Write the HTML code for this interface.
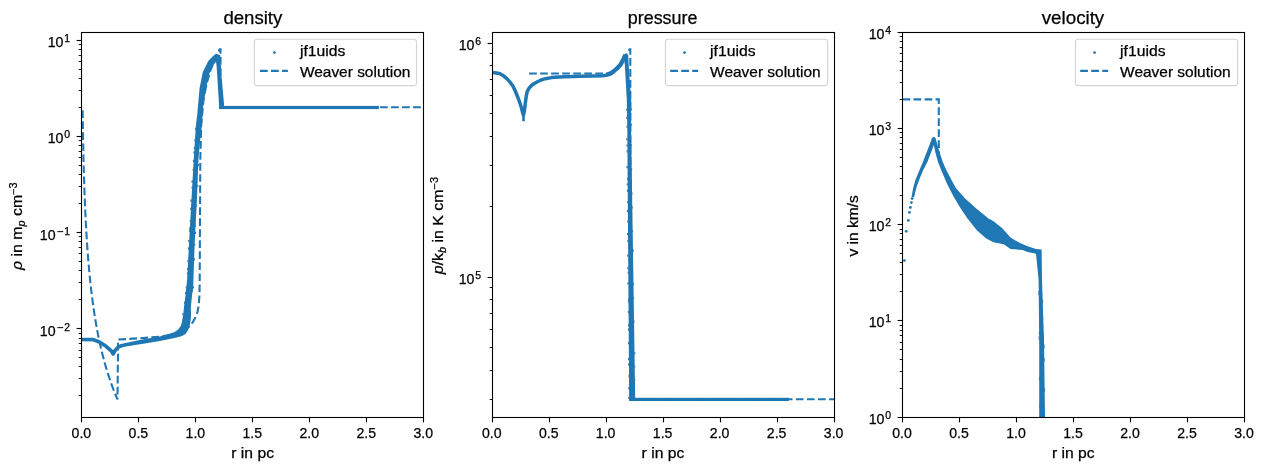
<!DOCTYPE html>
<html><head><meta charset="utf-8"><title>plot</title>
<style>html,body{margin:0;padding:0;background:#fff;}svg{display:block;will-change:transform;}text{stroke:#000;stroke-width:0.25px;}</style>
</head><body>
<svg width="1264" height="470" viewBox="0 0 1264 470" font-family='"Liberation Sans", sans-serif' fill="#000">
<rect x="0" y="0" width="1264" height="470" fill="#fff"/>
<clipPath id="c0"><rect x="81.50" y="32.50" width="342.00" height="385.00"/></clipPath>
<clipPath id="c1"><rect x="492.50" y="32.50" width="342.00" height="385.00"/></clipPath>
<clipPath id="c2"><rect x="902.50" y="32.50" width="342.00" height="385.00"/></clipPath>
<g clip-path="url(#c0)">
<polyline points="82.00,339.50 93.30,339.60 99.30,342.00 106.10,346.30 111.50,351.20 113.20,353.90 115.00,350.60 118.00,347.10 121.50,345.70 125.70,344.80 131.00,343.80" fill="none" stroke="#1f77b4" stroke-width="3.7" stroke-linejoin="round" stroke-linecap="butt"/>
<polygon points="130.00,341.90 144.90,338.90 159.80,336.40 167.20,334.40 174.70,331.90 178.40,329.20 181.00,325.50 182.10,321.00 183.20,315.00 183.90,307.70 185.70,293.80 187.10,280.00 190.30,220.00 193.70,160.00 195.90,125.00 197.20,115.00 199.60,87.90 202.80,71.90 208.40,60.70 213.10,56.00 216.00,53.80 219.80,56.00 220.00,60.00 216.30,61.50 212.50,66.00 209.90,71.90 206.00,87.90 203.00,108.00 202.00,125.00 200.20,140.00 198.40,160.00 196.90,200.00 194.60,245.00 193.10,290.00 192.20,293.80 190.80,307.70 191.10,315.00 190.70,319.50 189.90,324.70 188.10,329.90 185.80,333.80 182.10,336.00 174.70,338.00 167.20,339.60 159.80,341.00 144.90,343.40 130.00,345.80" fill="#1f77b4"/>
<rect x="195.12" y="127.80" width="0.91" height="2.20" fill="#1f77b4"/>
<rect x="194.45" y="139.26" width="0.85" height="2.20" fill="#1f77b4"/>
<rect x="193.77" y="146.90" width="1.06" height="2.20" fill="#1f77b4"/>
<rect x="193.38" y="151.41" width="1.16" height="2.20" fill="#1f77b4"/>
<rect x="192.90" y="159.87" width="1.10" height="2.20" fill="#1f77b4"/>
<rect x="192.64" y="168.79" width="0.86" height="2.20" fill="#1f77b4"/>
<rect x="191.46" y="180.48" width="1.38" height="2.20" fill="#1f77b4"/>
<rect x="191.54" y="186.52" width="0.96" height="2.20" fill="#1f77b4"/>
<rect x="190.30" y="199.51" width="1.46" height="2.20" fill="#1f77b4"/>
<rect x="190.22" y="207.71" width="1.08" height="2.20" fill="#1f77b4"/>
<rect x="189.78" y="219.79" width="0.83" height="2.20" fill="#1f77b4"/>
<rect x="189.20" y="227.41" width="1.00" height="2.20" fill="#1f77b4"/>
<rect x="189.19" y="229.88" width="0.88" height="2.20" fill="#1f77b4"/>
<rect x="188.17" y="239.94" width="1.37" height="2.20" fill="#1f77b4"/>
<rect x="187.93" y="247.47" width="1.21" height="2.20" fill="#1f77b4"/>
<rect x="187.40" y="260.06" width="1.06" height="2.20" fill="#1f77b4"/>
<rect x="187.20" y="267.91" width="0.84" height="2.20" fill="#1f77b4"/>
<rect x="186.86" y="272.33" width="0.94" height="2.20" fill="#1f77b4"/>
<rect x="185.66" y="286.33" width="1.10" height="2.20" fill="#1f77b4"/>
<rect x="184.99" y="291.80" width="1.21" height="2.20" fill="#1f77b4"/>
<rect x="183.97" y="301.64" width="1.01" height="2.20" fill="#1f77b4"/>
<rect x="182.38" y="313.22" width="1.29" height="2.20" fill="#1f77b4"/>
<rect x="197.95" y="163.97" width="0.93" height="2.20" fill="#1f77b4"/>
<rect x="197.17" y="184.78" width="1.08" height="2.20" fill="#1f77b4"/>
<rect x="196.38" y="204.35" width="0.79" height="2.20" fill="#1f77b4"/>
<rect x="195.34" y="224.68" width="0.71" height="2.20" fill="#1f77b4"/>
<rect x="194.97" y="231.79" width="1.02" height="2.20" fill="#1f77b4"/>
<rect x="194.37" y="243.72" width="0.89" height="2.20" fill="#1f77b4"/>
<rect x="193.86" y="258.14" width="0.98" height="2.20" fill="#1f77b4"/>
<rect x="192.93" y="286.17" width="0.93" height="2.20" fill="#1f77b4"/>
<polygon points="215.40,57.00 217.50,54.20 220.30,55.20 220.60,60.00 221.30,74.00 224.00,103.80 224.00,109.10 219.00,109.10 219.00,103.80 216.60,66.00" fill="#1f77b4"/>
<rect x="220" y="105.9" width="158.90" height="3.2" fill="#1f77b4"/>
<polyline points="82.63,110.28 82.65,111.73 82.67,113.17 82.69,114.62 82.71,116.06 82.73,117.51 82.75,118.96 82.77,120.40 82.79,121.85 82.82,123.29 82.84,124.74 82.86,126.18 82.89,127.63 82.91,129.08 82.94,130.52 82.96,131.97 82.99,133.41 83.01,134.86 83.04,136.30 83.07,137.75 83.09,139.19 83.12,140.64 83.15,142.09 83.18,143.53 83.21,144.98 83.24,146.42 83.27,147.87 83.30,149.31 83.33,150.76 83.36,152.20 83.40,153.65 83.43,155.10 83.46,156.54 83.50,157.99 83.53,159.43 83.57,160.88 83.60,162.32 83.64,163.77 83.68,165.21 83.71,166.66 83.75,168.11 83.79,169.55 83.83,171.00 83.87,172.44 83.92,173.89 83.96,175.33 84.00,176.78 84.04,178.23 84.09,179.67 84.13,181.12 84.18,182.56 84.23,184.01 84.27,185.45 84.32,186.90 84.37,188.34 84.42,189.79 84.47,191.24 84.52,192.68 84.58,194.13 84.63,195.57 84.69,197.02 84.74,198.46 84.80,199.91 84.86,201.35 84.91,202.80 84.97,204.25 85.04,205.69 85.10,207.14 85.16,208.58 85.22,210.03 85.29,211.47 85.35,212.92 85.42,214.36 85.49,215.81 85.56,217.26 85.63,218.70 85.70,220.15 85.78,221.59 85.85,223.04 85.93,224.48 86.00,225.93 86.08,227.38 86.16,228.82 86.25,230.27 86.33,231.71 86.41,233.16 86.50,234.60 86.59,236.05 86.67,237.49 86.76,238.94 86.86,240.39 86.95,241.83 87.05,243.28 87.14,244.72 87.24,246.17 87.34,247.61 87.44,249.06 87.55,250.50 87.65,251.95 87.76,253.40 87.87,254.84 87.98,256.29 88.09,257.73 88.21,259.18 88.33,260.62 88.44,262.07 88.57,263.51 88.69,264.96 88.82,266.41 88.94,267.85 89.07,269.30 89.21,270.74 89.34,272.19 89.48,273.63 89.62,275.08 89.76,276.53 89.90,277.97 90.05,279.42 90.20,280.86 90.35,282.31 90.50,283.75 90.66,285.20 90.82,286.64 90.98,288.09 91.15,289.54 91.32,290.98 91.49,292.43 91.66,293.87 91.84,295.32 92.02,296.76 92.21,298.21 92.39,299.65 92.58,301.10 92.78,302.55 92.97,303.99 93.18,305.44 93.38,306.88 93.59,308.33 93.80,309.77 94.01,311.22 94.23,312.66 94.45,314.11 94.68,315.56 94.91,317.00 95.14,318.45 95.38,319.89 95.62,321.34 95.87,322.78 96.12,324.23 96.38,325.68 96.64,327.12 96.90,328.57 97.17,330.01 97.44,331.46 97.72,332.90 98.01,334.35 98.29,335.79 98.59,337.24 98.89,338.69 99.19,340.13 99.50,341.58 99.81,343.02 100.13,344.47 100.46,345.91 100.79,347.36 101.13,348.80 101.47,350.25 101.82,351.70 102.17,353.14 102.53,354.59 102.90,356.03 103.28,357.48 103.66,358.92 104.04,360.37 104.44,361.81 104.84,363.26 105.24,364.71 105.66,366.15 106.08,367.60 106.51,369.04 106.95,370.49 107.39,371.93 107.84,373.38 108.30,374.83 108.77,376.27 109.25,377.72 109.73,379.16 110.23,380.61 110.73,382.05 111.24,383.50 111.76,384.94 112.29,386.39 112.82,387.84 113.37,389.28 113.93,390.73 114.49,392.17 115.07,393.62 115.66,395.06 116.25,396.51 116.86,397.95 117.48,399.40 118.11,339.60 140.00,338.20 160.00,336.70 177.00,334.00 184.00,330.80 189.80,326.20 192.70,322.30 194.90,318.50 197.40,312.10 198.70,305.70 199.50,295.00 199.70,280.00 200.30,160.00 201.20,125.00 203.50,100.00 206.50,84.00 205.55,89.05 206.50,84.00 210.50,70.00 215.00,59.00 219.60,49.30 220.50,49.30 220.50,107.20 423.50,107.20" stroke="#1f77b4" stroke-width="2.08" fill="none" stroke-dasharray="7.7 3.33"/>
</g>
<g clip-path="url(#c1)">
<polyline points="493.00,72.50 499.50,73.50 503.50,75.80 507.10,78.90 510.00,82.10 512.90,86.00 515.30,91.00 517.70,97.00 519.60,102.00 521.50,108.00 522.60,112.50 523.40,115.00 524.30,111.50 525.30,103.20 526.20,96.50 527.20,91.70 529.40,87.70 532.00,85.00 534.80,83.20 537.80,81.50 541.50,79.90 545.40,78.70 551.50,77.60 558.80,76.90 580.00,76.20 602.80,75.70 606.00,75.30 608.90,74.50 611.50,73.10" fill="none" stroke="#1f77b4" stroke-width="3.5" stroke-linejoin="round" stroke-linecap="butt"/>
<rect x="522.2" y="108" width="2.6" height="13.2" fill="#1f77b4"/>
<polyline points="608.90,74.50 611.50,73.00 614.00,71.00 617.00,68.40 620.60,64.60 623.40,59.20 625.50,54.80" fill="none" stroke="#1f77b4" stroke-width="4.3" stroke-linejoin="round" stroke-linecap="butt"/>
<polygon points="623.60,56.50 625.40,53.40 628.20,55.00 628.70,65.50 629.80,82.00 631.20,100.00 631.10,130.00 632.90,245.00 635.20,398.00 635.20,401.00 629.20,401.00 628.10,245.00 627.30,130.00 626.80,100.00 624.90,65.50" fill="#1f77b4"/>
<rect x="626.30" y="108.70" width="0.95" height="2.20" fill="#1f77b4"/>
<rect x="626.26" y="116.84" width="1.12" height="2.20" fill="#1f77b4"/>
<rect x="626.49" y="125.63" width="1.04" height="2.20" fill="#1f77b4"/>
<rect x="626.31" y="138.14" width="1.35" height="2.20" fill="#1f77b4"/>
<rect x="626.53" y="144.44" width="1.17" height="2.20" fill="#1f77b4"/>
<rect x="626.55" y="150.27" width="1.19" height="2.20" fill="#1f77b4"/>
<rect x="626.47" y="166.03" width="1.38" height="2.20" fill="#1f77b4"/>
<rect x="627.00" y="177.70" width="0.93" height="2.20" fill="#1f77b4"/>
<rect x="626.80" y="183.30" width="1.17" height="2.20" fill="#1f77b4"/>
<rect x="626.97" y="189.62" width="1.04" height="2.20" fill="#1f77b4"/>
<rect x="627.27" y="201.00" width="0.82" height="2.20" fill="#1f77b4"/>
<rect x="626.92" y="209.85" width="1.23" height="2.20" fill="#1f77b4"/>
<rect x="627.32" y="220.48" width="0.91" height="2.20" fill="#1f77b4"/>
<rect x="627.02" y="233.02" width="1.30" height="2.20" fill="#1f77b4"/>
<rect x="627.33" y="239.87" width="1.03" height="2.20" fill="#1f77b4"/>
<rect x="627.16" y="254.46" width="1.31" height="2.20" fill="#1f77b4"/>
<rect x="627.26" y="267.07" width="1.29" height="2.20" fill="#1f77b4"/>
<rect x="627.58" y="271.63" width="1.01" height="2.20" fill="#1f77b4"/>
<rect x="627.36" y="282.36" width="1.31" height="2.20" fill="#1f77b4"/>
<rect x="627.94" y="298.25" width="0.85" height="2.20" fill="#1f77b4"/>
<rect x="627.90" y="300.42" width="0.90" height="2.20" fill="#1f77b4"/>
<rect x="627.82" y="310.92" width="1.06" height="2.20" fill="#1f77b4"/>
<rect x="628.06" y="324.39" width="0.92" height="2.20" fill="#1f77b4"/>
<rect x="627.99" y="328.51" width="1.01" height="2.20" fill="#1f77b4"/>
<rect x="627.99" y="342.07" width="1.11" height="2.20" fill="#1f77b4"/>
<rect x="628.03" y="357.80" width="1.19" height="2.20" fill="#1f77b4"/>
<rect x="628.11" y="363.39" width="1.14" height="2.20" fill="#1f77b4"/>
<rect x="628.55" y="374.92" width="0.78" height="2.20" fill="#1f77b4"/>
<rect x="628.18" y="387.07" width="1.24" height="2.20" fill="#1f77b4"/>
<rect x="628.24" y="396.75" width="1.25" height="2.20" fill="#1f77b4"/>
<rect x="630.87" y="108.35" width="0.85" height="2.20" fill="#1f77b4"/>
<rect x="630.82" y="123.49" width="0.96" height="2.20" fill="#1f77b4"/>
<rect x="631.02" y="143.90" width="0.68" height="2.20" fill="#1f77b4"/>
<rect x="631.40" y="168.30" width="0.73" height="2.20" fill="#1f77b4"/>
<rect x="631.78" y="192.38" width="0.68" height="2.20" fill="#1f77b4"/>
<rect x="632.00" y="206.43" width="0.72" height="2.20" fill="#1f77b4"/>
<rect x="632.36" y="229.87" width="0.83" height="2.20" fill="#1f77b4"/>
<rect x="632.67" y="249.54" width="1.08" height="2.20" fill="#1f77b4"/>
<rect x="633.18" y="283.36" width="0.72" height="2.20" fill="#1f77b4"/>
<rect x="633.38" y="296.94" width="0.82" height="2.20" fill="#1f77b4"/>
<rect x="633.74" y="320.61" width="0.71" height="2.20" fill="#1f77b4"/>
<rect x="634.21" y="352.21" width="1.14" height="2.20" fill="#1f77b4"/>
<rect x="634.41" y="365.35" width="0.89" height="2.20" fill="#1f77b4"/>
<rect x="634.61" y="378.54" width="0.70" height="2.20" fill="#1f77b4"/>
<rect x="629.2" y="397.8" width="159.70" height="3.2" fill="#1f77b4"/>
<polyline points="529.10,73.50 606.00,73.50 611.00,72.30 616.00,68.60 621.00,63.20 626.00,55.00 629.60,49.30 630.30,49.30 630.50,300.00 630.93,300.00 630.50,300.01 630.60,399.20 834.50,399.20" stroke="#1f77b4" stroke-width="2.08" fill="none" stroke-dasharray="7.7 3.33"/>
</g>
<g clip-path="url(#c2)">
<circle cx="904.40" cy="260.60" r="1.4" fill="#1f77b4"/>
<circle cx="906.20" cy="231.30" r="1.4" fill="#1f77b4"/>
<circle cx="908.30" cy="220.40" r="1.4" fill="#1f77b4"/>
<circle cx="909.50" cy="212.40" r="1.4" fill="#1f77b4"/>
<circle cx="910.40" cy="207.50" r="1.4" fill="#1f77b4"/>
<circle cx="911.40" cy="202.60" r="1.4" fill="#1f77b4"/>
<circle cx="912.10" cy="198.60" r="1.4" fill="#1f77b4"/>
<polygon points="911.50,197.20 912.40,192.00 913.40,187.00 915.60,179.50 919.50,170.00 922.90,161.90 930.60,142.00 931.80,138.60 933.30,136.80 934.90,137.20 936.00,139.50 934.40,143.80 927.40,161.90 923.20,170.00 919.30,179.50 916.60,187.00 915.30,192.00 914.10,197.20" fill="#1f77b4"/>
<polygon points="933.40,137.00 935.80,139.00 938.90,150.00 942.60,161.50 946.30,170.00 950.20,177.50 955.80,188.00 965.10,198.50 976.80,209.10 988.50,218.50 993.50,221.30 1002.00,228.10 1010.50,237.40 1019.00,242.60 1027.60,246.30 1036.10,249.00 1041.60,249.50 1042.00,280.00 1044.00,340.00 1045.00,418.00 1039.20,418.00 1039.20,340.00 1038.60,280.00 1036.10,254.50 1035.20,253.60 1027.60,251.90 1022.40,249.90 1010.50,249.00 1003.70,244.20 993.50,242.20 986.20,238.40 976.80,230.20 967.50,218.50 960.40,207.90 953.40,196.20 946.80,183.30 941.20,170.00 938.00,161.90 935.40,152.50 933.60,143.80 932.60,139.00" fill="#1f77b4"/>
<rect x="1038.39" y="291.18" width="0.61" height="4.00" fill="#1f77b4"/>
<rect x="1038.83" y="331.01" width="0.58" height="4.00" fill="#1f77b4"/>
<rect x="1038.64" y="336.22" width="0.82" height="4.00" fill="#1f77b4"/>
<rect x="1038.93" y="376.56" width="0.57" height="4.00" fill="#1f77b4"/>
<rect x="1038.97" y="403.76" width="0.53" height="4.00" fill="#1f77b4"/>
<rect x="1042.31" y="299.69" width="0.83" height="4.00" fill="#1f77b4"/>
<rect x="1043.76" y="344.42" width="0.74" height="4.00" fill="#1f77b4"/>
<rect x="1043.93" y="357.75" width="0.64" height="4.00" fill="#1f77b4"/>
<rect x="1044.33" y="388.10" width="0.77" height="4.00" fill="#1f77b4"/>
<polyline points="902.50,99.40 938.80,99.40 938.80,157.50" stroke="#1f77b4" stroke-width="2.08" fill="none" stroke-dasharray="7.7 3.33"/>
</g>
<rect x="81.50" y="32.50" width="342.00" height="385.00" fill="none" stroke="#000" stroke-width="1.1"/>
<line x1="81.50" y1="417.50" x2="81.50" y2="422.40" stroke="#000" stroke-width="1.1"/>
<text x="81.37" y="437.90" font-size="14.50" text-anchor="middle" textLength="19.60" lengthAdjust="spacingAndGlyphs">0.0</text>
<line x1="138.50" y1="417.50" x2="138.50" y2="422.40" stroke="#000" stroke-width="1.1"/>
<text x="138.36" y="437.90" font-size="14.50" text-anchor="middle" textLength="19.60" lengthAdjust="spacingAndGlyphs">0.5</text>
<line x1="195.50" y1="417.50" x2="195.50" y2="422.40" stroke="#000" stroke-width="1.1"/>
<text x="195.35" y="437.90" font-size="14.50" text-anchor="middle" textLength="19.60" lengthAdjust="spacingAndGlyphs">1.0</text>
<line x1="252.50" y1="417.50" x2="252.50" y2="422.40" stroke="#000" stroke-width="1.1"/>
<text x="252.34" y="437.90" font-size="14.50" text-anchor="middle" textLength="19.60" lengthAdjust="spacingAndGlyphs">1.5</text>
<line x1="309.50" y1="417.50" x2="309.50" y2="422.40" stroke="#000" stroke-width="1.1"/>
<text x="309.33" y="437.90" font-size="14.50" text-anchor="middle" textLength="19.60" lengthAdjust="spacingAndGlyphs">2.0</text>
<line x1="366.50" y1="417.50" x2="366.50" y2="422.40" stroke="#000" stroke-width="1.1"/>
<text x="366.32" y="437.90" font-size="14.50" text-anchor="middle" textLength="19.60" lengthAdjust="spacingAndGlyphs">2.5</text>
<line x1="423.50" y1="417.50" x2="423.50" y2="422.40" stroke="#000" stroke-width="1.1"/>
<text x="423.31" y="437.90" font-size="14.50" text-anchor="middle" textLength="19.60" lengthAdjust="spacingAndGlyphs">3.0</text>
<rect x="492.50" y="32.50" width="342.00" height="385.00" fill="none" stroke="#000" stroke-width="1.1"/>
<line x1="492.50" y1="417.50" x2="492.50" y2="422.40" stroke="#000" stroke-width="1.1"/>
<text x="491.69" y="437.90" font-size="14.50" text-anchor="middle" textLength="19.60" lengthAdjust="spacingAndGlyphs">0.0</text>
<line x1="549.50" y1="417.50" x2="549.50" y2="422.40" stroke="#000" stroke-width="1.1"/>
<text x="548.68" y="437.90" font-size="14.50" text-anchor="middle" textLength="19.60" lengthAdjust="spacingAndGlyphs">0.5</text>
<line x1="606.50" y1="417.50" x2="606.50" y2="422.40" stroke="#000" stroke-width="1.1"/>
<text x="605.67" y="437.90" font-size="14.50" text-anchor="middle" textLength="19.60" lengthAdjust="spacingAndGlyphs">1.0</text>
<line x1="663.50" y1="417.50" x2="663.50" y2="422.40" stroke="#000" stroke-width="1.1"/>
<text x="662.66" y="437.90" font-size="14.50" text-anchor="middle" textLength="19.60" lengthAdjust="spacingAndGlyphs">1.5</text>
<line x1="720.50" y1="417.50" x2="720.50" y2="422.40" stroke="#000" stroke-width="1.1"/>
<text x="719.65" y="437.90" font-size="14.50" text-anchor="middle" textLength="19.60" lengthAdjust="spacingAndGlyphs">2.0</text>
<line x1="777.50" y1="417.50" x2="777.50" y2="422.40" stroke="#000" stroke-width="1.1"/>
<text x="776.64" y="437.90" font-size="14.50" text-anchor="middle" textLength="19.60" lengthAdjust="spacingAndGlyphs">2.5</text>
<line x1="834.50" y1="417.50" x2="834.50" y2="422.40" stroke="#000" stroke-width="1.1"/>
<text x="833.63" y="437.90" font-size="14.50" text-anchor="middle" textLength="19.60" lengthAdjust="spacingAndGlyphs">3.0</text>
<rect x="902.50" y="32.50" width="342.00" height="385.00" fill="none" stroke="#000" stroke-width="1.1"/>
<line x1="902.50" y1="417.50" x2="902.50" y2="422.40" stroke="#000" stroke-width="1.1"/>
<text x="902.02" y="437.90" font-size="14.50" text-anchor="middle" textLength="19.60" lengthAdjust="spacingAndGlyphs">0.0</text>
<line x1="959.50" y1="417.50" x2="959.50" y2="422.40" stroke="#000" stroke-width="1.1"/>
<text x="959.01" y="437.90" font-size="14.50" text-anchor="middle" textLength="19.60" lengthAdjust="spacingAndGlyphs">0.5</text>
<line x1="1016.50" y1="417.50" x2="1016.50" y2="422.40" stroke="#000" stroke-width="1.1"/>
<text x="1016.00" y="437.90" font-size="14.50" text-anchor="middle" textLength="19.60" lengthAdjust="spacingAndGlyphs">1.0</text>
<line x1="1073.50" y1="417.50" x2="1073.50" y2="422.40" stroke="#000" stroke-width="1.1"/>
<text x="1072.99" y="437.90" font-size="14.50" text-anchor="middle" textLength="19.60" lengthAdjust="spacingAndGlyphs">1.5</text>
<line x1="1130.50" y1="417.50" x2="1130.50" y2="422.40" stroke="#000" stroke-width="1.1"/>
<text x="1129.98" y="437.90" font-size="14.50" text-anchor="middle" textLength="19.60" lengthAdjust="spacingAndGlyphs">2.0</text>
<line x1="1187.50" y1="417.50" x2="1187.50" y2="422.40" stroke="#000" stroke-width="1.1"/>
<text x="1186.97" y="437.90" font-size="14.50" text-anchor="middle" textLength="19.60" lengthAdjust="spacingAndGlyphs">2.5</text>
<line x1="1244.50" y1="417.50" x2="1244.50" y2="422.40" stroke="#000" stroke-width="1.1"/>
<text x="1243.96" y="437.90" font-size="14.50" text-anchor="middle" textLength="19.60" lengthAdjust="spacingAndGlyphs">3.0</text>
<line x1="78.70" y1="395.50" x2="81.50" y2="395.50" stroke="#000" stroke-width="0.9"/>
<line x1="78.70" y1="378.50" x2="81.50" y2="378.50" stroke="#000" stroke-width="0.9"/>
<line x1="78.70" y1="366.50" x2="81.50" y2="366.50" stroke="#000" stroke-width="0.9"/>
<line x1="78.70" y1="357.50" x2="81.50" y2="357.50" stroke="#000" stroke-width="0.9"/>
<line x1="78.70" y1="350.50" x2="81.50" y2="350.50" stroke="#000" stroke-width="0.9"/>
<line x1="78.70" y1="343.50" x2="81.50" y2="343.50" stroke="#000" stroke-width="0.9"/>
<line x1="78.70" y1="338.50" x2="81.50" y2="338.50" stroke="#000" stroke-width="0.9"/>
<line x1="78.70" y1="333.50" x2="81.50" y2="333.50" stroke="#000" stroke-width="0.9"/>
<line x1="76.60" y1="328.50" x2="81.50" y2="328.50" stroke="#000" stroke-width="1.1"/>
<line x1="78.70" y1="299.50" x2="81.50" y2="299.50" stroke="#000" stroke-width="0.9"/>
<line x1="78.70" y1="282.50" x2="81.50" y2="282.50" stroke="#000" stroke-width="0.9"/>
<line x1="78.70" y1="270.50" x2="81.50" y2="270.50" stroke="#000" stroke-width="0.9"/>
<line x1="78.70" y1="261.50" x2="81.50" y2="261.50" stroke="#000" stroke-width="0.9"/>
<line x1="78.70" y1="253.50" x2="81.50" y2="253.50" stroke="#000" stroke-width="0.9"/>
<line x1="78.70" y1="247.50" x2="81.50" y2="247.50" stroke="#000" stroke-width="0.9"/>
<line x1="78.70" y1="241.50" x2="81.50" y2="241.50" stroke="#000" stroke-width="0.9"/>
<line x1="78.70" y1="236.50" x2="81.50" y2="236.50" stroke="#000" stroke-width="0.9"/>
<line x1="76.60" y1="232.50" x2="81.50" y2="232.50" stroke="#000" stroke-width="1.1"/>
<line x1="78.70" y1="203.50" x2="81.50" y2="203.50" stroke="#000" stroke-width="0.9"/>
<line x1="78.70" y1="186.50" x2="81.50" y2="186.50" stroke="#000" stroke-width="0.9"/>
<line x1="78.70" y1="174.50" x2="81.50" y2="174.50" stroke="#000" stroke-width="0.9"/>
<line x1="78.70" y1="165.50" x2="81.50" y2="165.50" stroke="#000" stroke-width="0.9"/>
<line x1="78.70" y1="157.50" x2="81.50" y2="157.50" stroke="#000" stroke-width="0.9"/>
<line x1="78.70" y1="151.50" x2="81.50" y2="151.50" stroke="#000" stroke-width="0.9"/>
<line x1="78.70" y1="145.50" x2="81.50" y2="145.50" stroke="#000" stroke-width="0.9"/>
<line x1="78.70" y1="140.50" x2="81.50" y2="140.50" stroke="#000" stroke-width="0.9"/>
<line x1="76.60" y1="136.50" x2="81.50" y2="136.50" stroke="#000" stroke-width="1.1"/>
<line x1="78.70" y1="107.50" x2="81.50" y2="107.50" stroke="#000" stroke-width="0.9"/>
<line x1="78.70" y1="90.50" x2="81.50" y2="90.50" stroke="#000" stroke-width="0.9"/>
<line x1="78.70" y1="78.50" x2="81.50" y2="78.50" stroke="#000" stroke-width="0.9"/>
<line x1="78.70" y1="69.50" x2="81.50" y2="69.50" stroke="#000" stroke-width="0.9"/>
<line x1="78.70" y1="61.50" x2="81.50" y2="61.50" stroke="#000" stroke-width="0.9"/>
<line x1="78.70" y1="55.50" x2="81.50" y2="55.50" stroke="#000" stroke-width="0.9"/>
<line x1="78.70" y1="49.50" x2="81.50" y2="49.50" stroke="#000" stroke-width="0.9"/>
<line x1="78.70" y1="44.50" x2="81.50" y2="44.50" stroke="#000" stroke-width="0.9"/>
<line x1="76.60" y1="40.50" x2="81.50" y2="40.50" stroke="#000" stroke-width="1.1"/>
<text x="64.20" y="41.75" font-size="10.00" text-anchor="start" textLength="5.80" lengthAdjust="spacingAndGlyphs">1</text>
<text x="47.70" y="46.75" font-size="14.50" text-anchor="start" textLength="15.80" lengthAdjust="spacingAndGlyphs">10</text>
<text x="64.20" y="137.75" font-size="10.00" text-anchor="start" textLength="5.80" lengthAdjust="spacingAndGlyphs">0</text>
<text x="47.70" y="142.75" font-size="14.50" text-anchor="start" textLength="15.80" lengthAdjust="spacingAndGlyphs">10</text>
<text x="64.20" y="234.95" font-size="10.00" text-anchor="start" textLength="5.80" lengthAdjust="spacingAndGlyphs">1</text>
<line x1="57.40" y1="231.65" x2="63.20" y2="231.65" stroke="#000" stroke-width="1.0"/>
<text x="39.80" y="239.95" font-size="14.50" text-anchor="start" textLength="15.80" lengthAdjust="spacingAndGlyphs">10</text>
<text x="64.20" y="330.95" font-size="10.00" text-anchor="start" textLength="5.80" lengthAdjust="spacingAndGlyphs">2</text>
<line x1="57.40" y1="327.65" x2="63.20" y2="327.65" stroke="#000" stroke-width="1.0"/>
<text x="39.80" y="335.95" font-size="14.50" text-anchor="start" textLength="15.80" lengthAdjust="spacingAndGlyphs">10</text>
<line x1="489.70" y1="399.50" x2="492.50" y2="399.50" stroke="#000" stroke-width="0.9"/>
<line x1="489.70" y1="370.50" x2="492.50" y2="370.50" stroke="#000" stroke-width="0.9"/>
<line x1="489.70" y1="347.50" x2="492.50" y2="347.50" stroke="#000" stroke-width="0.9"/>
<line x1="489.70" y1="329.50" x2="492.50" y2="329.50" stroke="#000" stroke-width="0.9"/>
<line x1="489.70" y1="313.50" x2="492.50" y2="313.50" stroke="#000" stroke-width="0.9"/>
<line x1="489.70" y1="299.50" x2="492.50" y2="299.50" stroke="#000" stroke-width="0.9"/>
<line x1="489.70" y1="287.50" x2="492.50" y2="287.50" stroke="#000" stroke-width="0.9"/>
<line x1="487.60" y1="277.50" x2="492.50" y2="277.50" stroke="#000" stroke-width="1.1"/>
<line x1="489.70" y1="206.50" x2="492.50" y2="206.50" stroke="#000" stroke-width="0.9"/>
<line x1="489.70" y1="165.50" x2="492.50" y2="165.50" stroke="#000" stroke-width="0.9"/>
<line x1="489.70" y1="136.50" x2="492.50" y2="136.50" stroke="#000" stroke-width="0.9"/>
<line x1="489.70" y1="113.50" x2="492.50" y2="113.50" stroke="#000" stroke-width="0.9"/>
<line x1="489.70" y1="95.50" x2="492.50" y2="95.50" stroke="#000" stroke-width="0.9"/>
<line x1="489.70" y1="79.50" x2="492.50" y2="79.50" stroke="#000" stroke-width="0.9"/>
<line x1="489.70" y1="65.50" x2="492.50" y2="65.50" stroke="#000" stroke-width="0.9"/>
<line x1="489.70" y1="53.50" x2="492.50" y2="53.50" stroke="#000" stroke-width="0.9"/>
<line x1="487.60" y1="43.50" x2="492.50" y2="43.50" stroke="#000" stroke-width="1.1"/>
<text x="475.20" y="44.75" font-size="10.00" text-anchor="start" textLength="5.80" lengthAdjust="spacingAndGlyphs">6</text>
<text x="458.70" y="49.75" font-size="14.50" text-anchor="start" textLength="15.80" lengthAdjust="spacingAndGlyphs">10</text>
<text x="475.20" y="278.75" font-size="10.00" text-anchor="start" textLength="5.80" lengthAdjust="spacingAndGlyphs">5</text>
<text x="458.70" y="283.75" font-size="14.50" text-anchor="start" textLength="15.80" lengthAdjust="spacingAndGlyphs">10</text>
<line x1="897.60" y1="417.50" x2="902.50" y2="417.50" stroke="#000" stroke-width="1.1"/>
<line x1="899.70" y1="388.50" x2="902.50" y2="388.50" stroke="#000" stroke-width="0.9"/>
<line x1="899.70" y1="371.50" x2="902.50" y2="371.50" stroke="#000" stroke-width="0.9"/>
<line x1="899.70" y1="359.50" x2="902.50" y2="359.50" stroke="#000" stroke-width="0.9"/>
<line x1="899.70" y1="349.50" x2="902.50" y2="349.50" stroke="#000" stroke-width="0.9"/>
<line x1="899.70" y1="342.50" x2="902.50" y2="342.50" stroke="#000" stroke-width="0.9"/>
<line x1="899.70" y1="335.50" x2="902.50" y2="335.50" stroke="#000" stroke-width="0.9"/>
<line x1="899.70" y1="330.50" x2="902.50" y2="330.50" stroke="#000" stroke-width="0.9"/>
<line x1="899.70" y1="325.50" x2="902.50" y2="325.50" stroke="#000" stroke-width="0.9"/>
<line x1="897.60" y1="320.50" x2="902.50" y2="320.50" stroke="#000" stroke-width="1.1"/>
<line x1="899.70" y1="291.50" x2="902.50" y2="291.50" stroke="#000" stroke-width="0.9"/>
<line x1="899.70" y1="274.50" x2="902.50" y2="274.50" stroke="#000" stroke-width="0.9"/>
<line x1="899.70" y1="262.50" x2="902.50" y2="262.50" stroke="#000" stroke-width="0.9"/>
<line x1="899.70" y1="253.50" x2="902.50" y2="253.50" stroke="#000" stroke-width="0.9"/>
<line x1="899.70" y1="245.50" x2="902.50" y2="245.50" stroke="#000" stroke-width="0.9"/>
<line x1="899.70" y1="239.50" x2="902.50" y2="239.50" stroke="#000" stroke-width="0.9"/>
<line x1="899.70" y1="233.50" x2="902.50" y2="233.50" stroke="#000" stroke-width="0.9"/>
<line x1="899.70" y1="229.50" x2="902.50" y2="229.50" stroke="#000" stroke-width="0.9"/>
<line x1="897.60" y1="224.50" x2="902.50" y2="224.50" stroke="#000" stroke-width="1.1"/>
<line x1="899.70" y1="195.50" x2="902.50" y2="195.50" stroke="#000" stroke-width="0.9"/>
<line x1="899.70" y1="178.50" x2="902.50" y2="178.50" stroke="#000" stroke-width="0.9"/>
<line x1="899.70" y1="166.50" x2="902.50" y2="166.50" stroke="#000" stroke-width="0.9"/>
<line x1="899.70" y1="157.50" x2="902.50" y2="157.50" stroke="#000" stroke-width="0.9"/>
<line x1="899.70" y1="149.50" x2="902.50" y2="149.50" stroke="#000" stroke-width="0.9"/>
<line x1="899.70" y1="143.50" x2="902.50" y2="143.50" stroke="#000" stroke-width="0.9"/>
<line x1="899.70" y1="137.50" x2="902.50" y2="137.50" stroke="#000" stroke-width="0.9"/>
<line x1="899.70" y1="132.50" x2="902.50" y2="132.50" stroke="#000" stroke-width="0.9"/>
<line x1="897.60" y1="128.50" x2="902.50" y2="128.50" stroke="#000" stroke-width="1.1"/>
<line x1="899.70" y1="99.50" x2="902.50" y2="99.50" stroke="#000" stroke-width="0.9"/>
<line x1="899.70" y1="82.50" x2="902.50" y2="82.50" stroke="#000" stroke-width="0.9"/>
<line x1="899.70" y1="70.50" x2="902.50" y2="70.50" stroke="#000" stroke-width="0.9"/>
<line x1="899.70" y1="61.50" x2="902.50" y2="61.50" stroke="#000" stroke-width="0.9"/>
<line x1="899.70" y1="53.50" x2="902.50" y2="53.50" stroke="#000" stroke-width="0.9"/>
<line x1="899.70" y1="47.50" x2="902.50" y2="47.50" stroke="#000" stroke-width="0.9"/>
<line x1="899.70" y1="41.50" x2="902.50" y2="41.50" stroke="#000" stroke-width="0.9"/>
<line x1="899.70" y1="36.50" x2="902.50" y2="36.50" stroke="#000" stroke-width="0.9"/>
<line x1="897.60" y1="32.50" x2="902.50" y2="32.50" stroke="#000" stroke-width="1.1"/>
<text x="885.20" y="33.75" font-size="10.00" text-anchor="start" textLength="5.80" lengthAdjust="spacingAndGlyphs">4</text>
<text x="868.70" y="38.75" font-size="14.50" text-anchor="start" textLength="15.80" lengthAdjust="spacingAndGlyphs">10</text>
<text x="885.20" y="129.75" font-size="10.00" text-anchor="start" textLength="5.80" lengthAdjust="spacingAndGlyphs">3</text>
<text x="868.70" y="134.75" font-size="14.50" text-anchor="start" textLength="15.80" lengthAdjust="spacingAndGlyphs">10</text>
<text x="885.20" y="225.75" font-size="10.00" text-anchor="start" textLength="5.80" lengthAdjust="spacingAndGlyphs">2</text>
<text x="868.70" y="230.75" font-size="14.50" text-anchor="start" textLength="15.80" lengthAdjust="spacingAndGlyphs">10</text>
<text x="885.20" y="321.75" font-size="10.00" text-anchor="start" textLength="5.80" lengthAdjust="spacingAndGlyphs">1</text>
<text x="868.70" y="326.75" font-size="14.50" text-anchor="start" textLength="15.80" lengthAdjust="spacingAndGlyphs">10</text>
<text x="885.20" y="418.75" font-size="10.00" text-anchor="start" textLength="5.80" lengthAdjust="spacingAndGlyphs">0</text>
<text x="868.70" y="423.75" font-size="14.50" text-anchor="start" textLength="15.80" lengthAdjust="spacingAndGlyphs">10</text>
<text x="252.90" y="23.50" font-size="18.40" text-anchor="middle" textLength="58.90" lengthAdjust="spacingAndGlyphs">density</text>
<text x="662.60" y="23.50" font-size="18.40" text-anchor="middle" textLength="69.70" lengthAdjust="spacingAndGlyphs">pressure</text>
<text x="1073.00" y="23.50" font-size="18.40" text-anchor="middle" textLength="62.50" lengthAdjust="spacingAndGlyphs">velocity</text>
<text x="252.64" y="457.70" font-size="14.50" text-anchor="middle" textLength="42.70" lengthAdjust="spacingAndGlyphs">r in pc</text>
<text x="662.96" y="457.70" font-size="14.50" text-anchor="middle" textLength="42.70" lengthAdjust="spacingAndGlyphs">r in pc</text>
<text x="1073.29" y="457.70" font-size="14.50" text-anchor="middle" textLength="42.70" lengthAdjust="spacingAndGlyphs">r in pc</text>
<g transform="translate(21.90 269.90) rotate(-90)"><text x="0" y="0" font-size="14.50" textLength="87.50" lengthAdjust="spacingAndGlyphs"><tspan font-style="italic">&#961;</tspan> in m<tspan font-size="10" dy="2.6" font-style="italic">p</tspan><tspan dy="-2.6"> cm</tspan><tspan font-size="10" dy="-5.2">&#8722;3</tspan></text></g>
<g transform="translate(443.40 274.20) rotate(-90)"><text x="0" y="0" font-size="14.50" textLength="97.20" lengthAdjust="spacingAndGlyphs"><tspan font-style="italic">p</tspan>/k<tspan font-size="10" dy="2.6" font-style="italic">b</tspan><tspan dy="-2.6"> in K cm</tspan><tspan font-size="10" dy="-5.2">&#8722;3</tspan></text></g>
<g transform="translate(858.10 256.50) rotate(-90)"><text x="0" y="0" font-size="14.50" textLength="61.30" lengthAdjust="spacingAndGlyphs">v in km/s</text></g>
<rect x="254.30" y="39.3" width="162.2" height="46.3" rx="2.8" ry="2.8" fill="#fff" fill-opacity="0.8" stroke="#d4d4d4" stroke-width="1.1"/>
<circle cx="274.40" cy="52.55" r="1.4" fill="#1f77b4"/>
<line x1="260.00" y1="70.9" x2="287.90" y2="70.9" stroke="#1f77b4" stroke-width="2.08" stroke-dasharray="7.7 3.33"/>
<text x="299.90" y="55.90" font-size="14.50" text-anchor="start" textLength="45.40" lengthAdjust="spacingAndGlyphs">jf1uids</text>
<text x="299.90" y="76.60" font-size="14.50" text-anchor="start" textLength="110.50" lengthAdjust="spacingAndGlyphs">Weaver solution</text>
<rect x="665.40" y="39.3" width="162.2" height="46.3" rx="2.8" ry="2.8" fill="#fff" fill-opacity="0.8" stroke="#d4d4d4" stroke-width="1.1"/>
<circle cx="684.60" cy="52.55" r="1.4" fill="#1f77b4"/>
<line x1="670.20" y1="70.9" x2="698.10" y2="70.9" stroke="#1f77b4" stroke-width="2.08" stroke-dasharray="7.7 3.33"/>
<text x="710.10" y="55.90" font-size="14.50" text-anchor="start" textLength="45.40" lengthAdjust="spacingAndGlyphs">jf1uids</text>
<text x="710.10" y="76.60" font-size="14.50" text-anchor="start" textLength="110.50" lengthAdjust="spacingAndGlyphs">Weaver solution</text>
<rect x="1075.40" y="39.3" width="162.2" height="46.3" rx="2.8" ry="2.8" fill="#fff" fill-opacity="0.8" stroke="#d4d4d4" stroke-width="1.1"/>
<circle cx="1094.60" cy="52.55" r="1.4" fill="#1f77b4"/>
<line x1="1080.20" y1="70.9" x2="1108.10" y2="70.9" stroke="#1f77b4" stroke-width="2.08" stroke-dasharray="7.7 3.33"/>
<text x="1120.10" y="55.90" font-size="14.50" text-anchor="start" textLength="45.40" lengthAdjust="spacingAndGlyphs">jf1uids</text>
<text x="1120.10" y="76.60" font-size="14.50" text-anchor="start" textLength="110.50" lengthAdjust="spacingAndGlyphs">Weaver solution</text>
</svg>
</body></html>
